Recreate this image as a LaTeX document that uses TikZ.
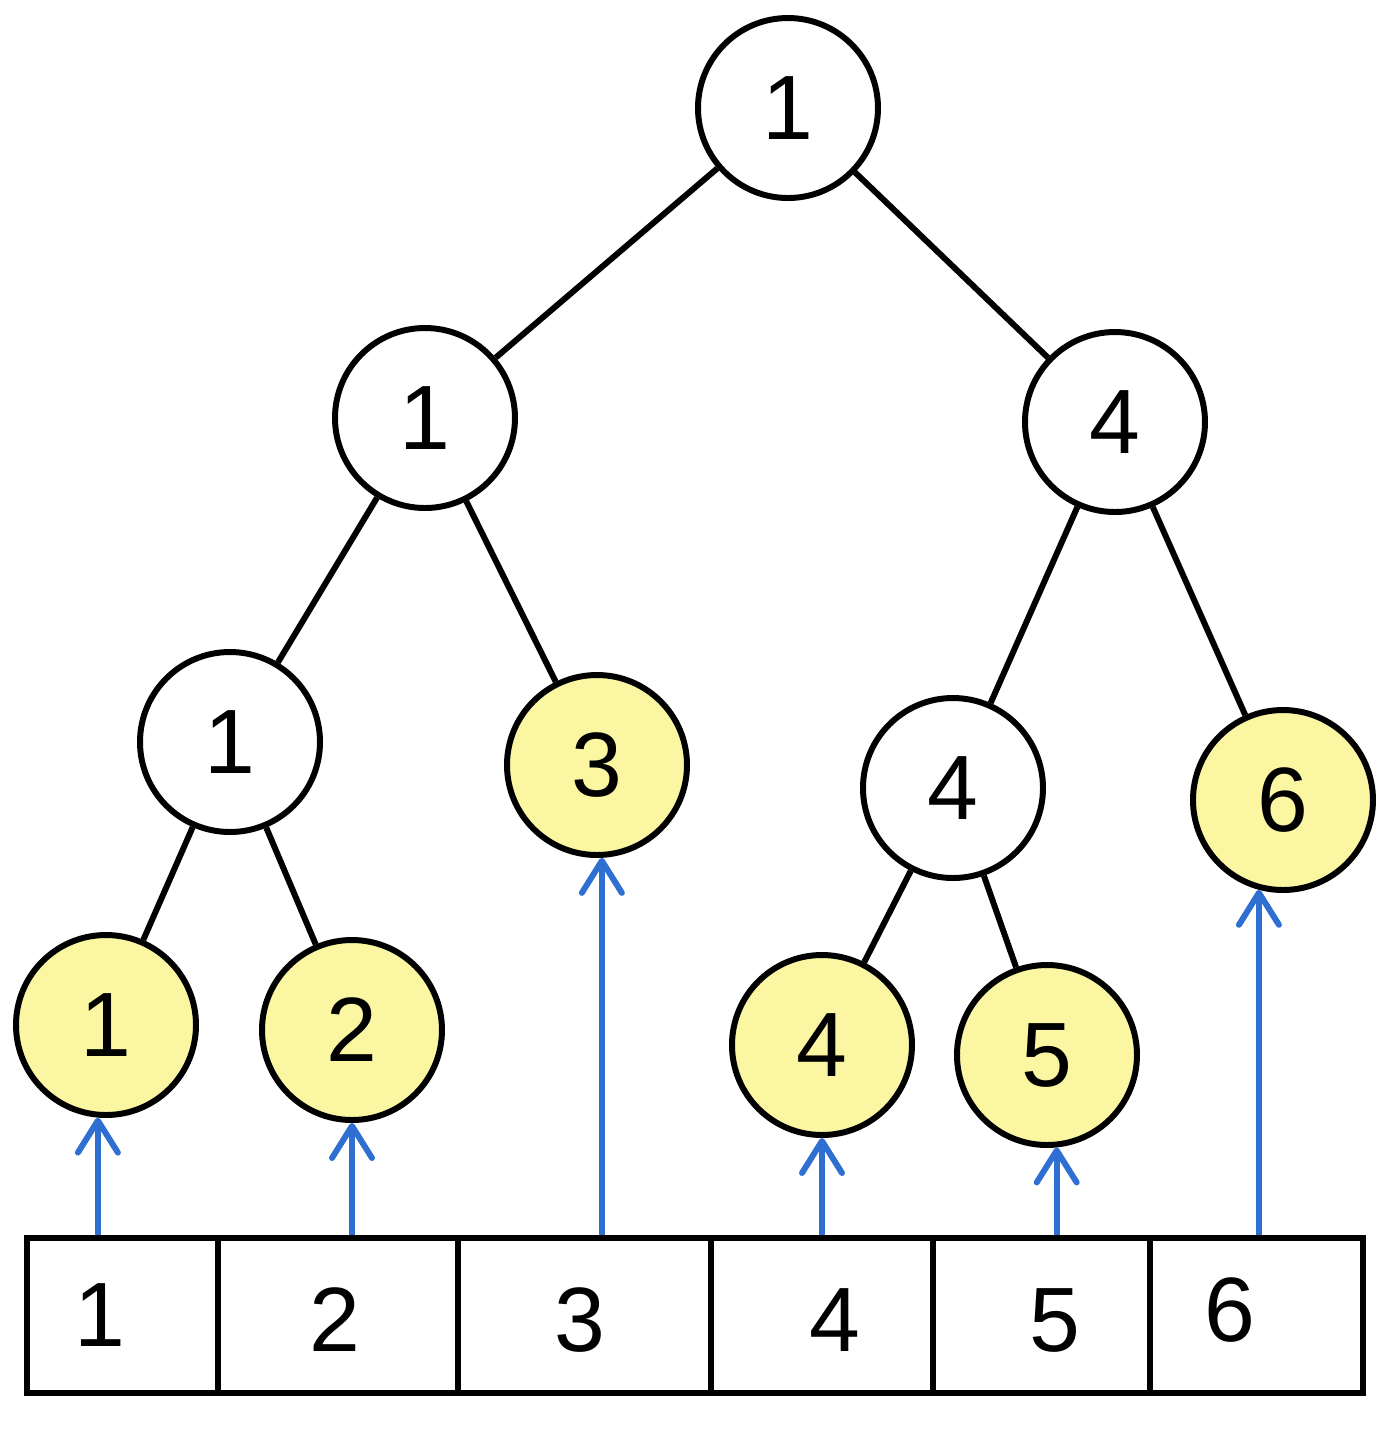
\documentclass[tikz,border=0pt]{standalone}
\usepackage{fontspec}
\setmainfont{Liberation Sans}
\usetikzlibrary{arrows.meta}
\definecolor{leafyellow}{HTML}{FAF6A2}
\definecolor{arrowblue}{HTML}{2F6FD2}
\begin{document}
\begin{tikzpicture}[
  every node/.style={font=\fontsize{26}{30}\selectfont},
  tnode/.style={circle, draw=black, line width=1.7pt, minimum size=1.8cm, inner sep=0pt, fill=white},
  leaf/.style={tnode, fill=leafyellow},
  edge/.style={draw=black, line width=1.7pt},
  cell/.style={rectangle, draw=black, line width=1.7pt, minimum height=1.55cm, inner sep=0pt, anchor=north west},
  upar/.style={draw=arrowblue, line width=1.7pt, -{Straight Barb[length=3.2mm,width=4mm,round]}},
]
\useasboundingbox (0,0) rectangle (13.97,-14.39);

% tree nodes
\node[tnode] (r) at (7.88,-1.08) {1};
\node[tnode] (a) at (4.25,-4.18) {1};
\node[tnode] (b) at (11.15,-4.22) {4};
\node[tnode] (c) at (2.30,-7.42) {1};
\node[leaf]  (d) at (5.97,-7.65) {3};
\node[tnode] (e) at (9.53,-7.88) {4};
\node[leaf]  (f) at (12.83,-8.00) {6};
\node[leaf]  (g) at (1.06,-10.25) {1};
\node[leaf]  (h) at (3.52,-10.30) {2};
\node[leaf]  (i) at (8.22,-10.45) {4};
\node[leaf]  (j) at (10.47,-10.55) {5};

% edges
\draw[edge] (r) -- (a);
\draw[edge] (r) -- (b);
\draw[edge] (a) -- (c);
\draw[edge] (a) -- (d);
\draw[edge] (b) -- (e);
\draw[edge] (b) -- (f);
\draw[edge] (c) -- (g);
\draw[edge] (c) -- (h);
\draw[edge] (e) -- (i);
\draw[edge] (e) -- (j);

% array cells
\node[cell, minimum width=1.91cm] (c1) at (0.24,-12.35) {};
\node[cell, minimum width=2.40cm] (c2) at (2.15,-12.35) {};
\node[cell, minimum width=2.53cm] (c3) at (4.55,-12.35) {};
\node[cell, minimum width=2.22cm] (c4) at (7.08,-12.35) {};
\node[cell, minimum width=2.17cm] (c5) at (9.30,-12.35) {};
\node[cell, minimum width=2.13cm] (c6) at (11.47,-12.35) {};

% cell texts
\node (t1) at (1.00,-13.15) {1};
\node (t2) at (3.35,-13.20) {2};
\node (t3) at (5.80,-13.20) {3};
\node (t4) at (8.35,-13.20) {4};
\node (t5) at (10.55,-13.20) {5};
\node (t6) at (12.30,-13.10) {6};

% blue arrows
\draw[upar] (g.265 |- c1.north) -- (g.265);
\draw[upar] (h.270 |- c2.north) -- (h.270);
\draw[upar] (d.273 |- c3.north) -- (d.273);
\draw[upar] (i.270 |- c4.north) -- (i.270);
\draw[upar] (j.276 |- c5.north) -- (j.276);
\draw[upar] (f.255 |- c6.north) -- (f.255);
\end{tikzpicture}
\end{document}
